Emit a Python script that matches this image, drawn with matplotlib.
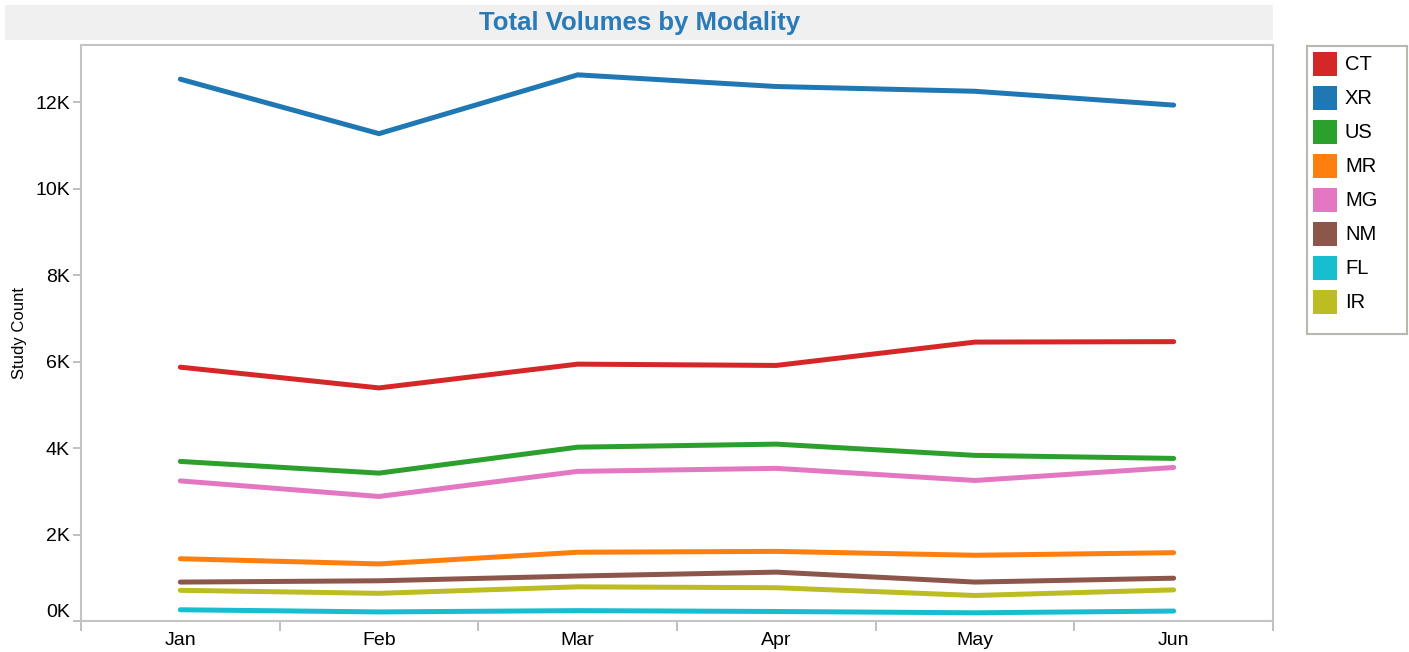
import numpy as np
import matplotlib
matplotlib.use("Agg")
import matplotlib.pyplot as plt
from matplotlib.patches import Rectangle
from matplotlib.ticker import FuncFormatter, FixedLocator

plt.rcParams["font.family"] = ["Liberation Sans", "DejaVu Sans"]

MONTHS = ["Jan", "Feb", "Mar", "Apr", "May", "Jun"]
MODALITIES = ["CT", "XR", "US", "MR", "MG", "NM", "FL", "IR"]
COLORS = ["#d62728", "#1f77b4", "#2ca02c", "#ff7f0e", "#e377c2", "#8c564b", "#17becf", "#bcbd22"]

CT = [5870, 5390, 5940, 5910, 6450, 6460]
XR = [12530, 11270, 12630, 12360, 12250, 11930]
US = [3690, 3420, 4020, 4090, 3830, 3760]
MR = [1440, 1320, 1590, 1610, 1520, 1580]
MG = [3240, 2880, 3460, 3530, 3250, 3550]
NM = [900, 930, 1040, 1130, 900, 990]
FL = [260, 210, 240, 220, 190, 230]
IR = [710, 640, 790, 770, 590, 720]
SERIES = [CT, XR, US, MR, MG, NM, FL, IR]

W, H = 1409, 652
fig = plt.figure(figsize=(W / 100, H / 100), dpi=100)

# title band
fig.patches.append(Rectangle((5 / W, 1 - 40 / H), 1268 / W, 35 / H, transform=fig.transFigure,
                             fc="#f0f0f0", ec="none", zorder=0))
fig.text(640 / W, 1 - 23 / H, "Total Volumes by Modality", ha="center", va="center",
         fontsize=18.5, fontweight="bold", color="#2a7ab8")

ax = fig.add_axes([81 / W, 1 - 621 / H, 1192 / W, 576 / H])
x = np.arange(len(MONTHS))
for name, vals, col in zip(MODALITIES, SERIES, COLORS):
    ax.plot(x, vals, color=col, lw=3.6, solid_capstyle="round", solid_joinstyle="miter", label=name)

ax.set_xlim(-0.5, len(MONTHS) - 0.5)
ax.set_ylim(0, 13320)
ax.set_yticks(np.arange(0, 13000, 2000))
ax.yaxis.set_major_formatter(FuncFormatter(lambda v, p: f"{int(v / 1000)}K"))
ax.set_xticks(x)
ax.set_xticklabels(MONTHS)
ax.xaxis.set_minor_locator(FixedLocator(np.arange(-0.5, len(MONTHS), 1.0)))
ax.tick_params(axis="x", which="major", length=0, pad=8, labelsize=14)
ax.tick_params(axis="x", which="minor", length=7, width=1.2, color="#b5b5b5")
ax.tick_params(axis="y", length=6, width=1.2, color="#b5b5b5", labelsize=14, pad=2)
for s in ax.spines.values():
    s.set_color("#c4c4c4")
    s.set_linewidth(1.5)
ax.set_ylabel("Study Count", fontsize=12, labelpad=6)
ax.get_yticklabels()[0].set_va("bottom")

# legend box
lax = fig.add_axes([1307 / W, 1 - 334 / H, 100 / W, 288 / H])
lax.set_xlim(0, 100)
lax.set_ylim(288, 0)
lax.set_xticks([])
lax.set_yticks([])
for s in lax.spines.values():
    s.set_color("#b8b8ae")
    s.set_linewidth(1.5)
for i, (name, col) in enumerate(zip(MODALITIES, COLORS)):
    yc = 18 + i * 34
    lax.add_patch(Rectangle((6, yc - 12), 24, 24, fc=col, ec="none"))
    lax.text(38, yc, name, va="center", ha="left", fontsize=14.5)

fig.savefig("out.png", dpi=100)
